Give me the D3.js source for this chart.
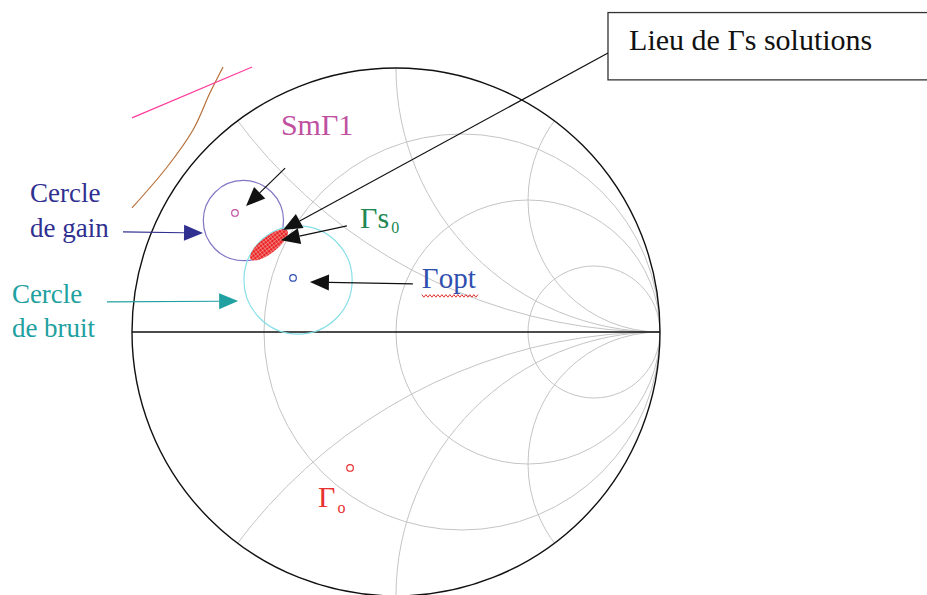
<!DOCTYPE html>
<html>
<head>
<script src="https://d3js.org/d3.v7.min.js"></script>
<style>
  body { margin: 0; background: #fff; }
  svg { display: block; font-family: "Liberation Serif", "Times New Roman", serif; }
</style>
</head>
<body>
<svg id="chart" width="927" height="595"></svg>
<script>
// smith chart grid (normalised resistance / reactance)
const resistances = [1/3, 1, 3];
const reactances = [0.5, 1, 2, -0.5, -1, -2];

// circles in the reflection plane (u = Re, v = Im, r = radius)
const gainCircle = {u: -0.578, v: 0.422, r: 0.152};
const noiseCircle = {u: -0.371, v: 0.197, r: 0.205};
const solutionZone = {u: -0.481, v: 0.330, a: 0.088, b: 0.031, angle: -38};

// small point markers
const markerU = [-0.610, -0.390, -0.174];
const markerV = [0.451, 0.205, -0.515];
const markerColors = ["#c050a0", "#3050b0", "#e83030"];

// labels
const labelText = ["Lieu de \u0393s solutions", "Sm\u03931", "\u0393s", "\u0393opt", "Cercle", "de gain", "Cercle", "de bruit", "\u0393"];
const labelSub = ["", "", "0", "", "", "", "", "", "o"];
const labelU = [0.883, -0.436, -0.136, 0.098, -1.386, -1.386, -1.455, -1.455, -0.295];
const labelV = [1.068, 0.746, 0.394, 0.167, 0.492, 0.360, 0.110, -0.019, -0.663];
const labelColors = ["#111", "#c050a0", "#208850", "#3050b0", "#303090", "#303090", "#20a0a0", "#20a0a0", "#e83030"];
const labelSizes = [30, 30, 30, 29, 27, 27, 27, 27, 30];

// arrows [u1, v1, u2, v2]
const arrows = [
  [0.803, 1.057, -0.428, 0.386],
  [-0.420, 0.621, -0.568, 0.477],
  [-0.186, 0.402, -0.436, 0.348],
  [0.064, 0.182, -0.326, 0.189],
  [-1.034, 0.379, -0.731, 0.375],
  [-1.095, 0.114, -0.598, 0.117]
];
const arrowColors = ["#111", "#111", "#111", "#111", "#303090", "#20a0a0"];

// stray sketch strokes top left
const brownCurve = [[-1.0, 0.470], [-0.867, 0.625], [-0.769, 0.765], [-0.705, 0.905], [-0.655, 1.004]];
const pinkLine = [[-1.0, 0.811], [-0.545, 1.004]];

const svg = d3.select("#chart");
const x = d3.scaleLinear().domain([-1, 1]).range([132, 660]);
const y = d3.scaleLinear().domain([-1, 1]).range([596, 68]);
const len = r => x(r) - x(0);

const defs = svg.append("defs");
defs.append("clipPath").attr("id", "disc")
  .append("circle").attr("cx", x(0)).attr("cy", y(0)).attr("r", len(1));
const pat = defs.append("pattern").attr("id", "hatch")
  .attr("width", 3).attr("height", 3).attr("patternUnits", "userSpaceOnUse");
pat.append("rect").attr("width", 3).attr("height", 3).attr("fill", "#e82020");
pat.append("path").attr("d", "M0,0H3M0,0V3").attr("stroke", "#ffd0d0").attr("stroke-width", 0.8);

const grid = svg.append("g").attr("clip-path", "url(#disc)")
  .attr("fill", "none").attr("stroke", "#c4c4c4").attr("stroke-width", 1);
grid.selectAll("circle.r").data(resistances).join("circle")
  .attr("class", "r")
  .attr("cx", r => x(r / (1 + r)))
  .attr("cy", y(0))
  .attr("r", r => len(1 / (1 + r)));
grid.selectAll("circle.x").data(reactances).join("circle")
  .attr("class", "x")
  .attr("cx", x(1))
  .attr("cy", k => y(1 / k))
  .attr("r", k => len(Math.abs(1 / k)));

svg.append("circle").attr("cx", x(0)).attr("cy", y(0)).attr("r", len(1))
  .attr("fill", "none").attr("stroke", "#111").attr("stroke-width", 1.4);
svg.append("line").attr("x1", x(-1)).attr("x2", x(1)).attr("y1", y(0)).attr("y2", y(0))
  .attr("stroke", "#111").attr("stroke-width", 1.3);

// sketch strokes
svg.append("path").datum(brownCurve)
  .attr("d", d3.line().x(d => x(d[0])).y(d => y(d[1])).curve(d3.curveCatmullRom))
  .attr("fill", "none").attr("stroke", "#b8703a").attr("stroke-width", 1.2);
svg.append("path").datum(pinkLine)
  .attr("d", d3.line().x(d => x(d[0])).y(d => y(d[1])))
  .attr("fill", "none").attr("stroke", "#ff3c9c").attr("stroke-width", 1.2);

// gain and noise circles
svg.append("circle").attr("cx", x(gainCircle.u)).attr("cy", y(gainCircle.v)).attr("r", len(gainCircle.r))
  .attr("fill", "none").attr("stroke", "#8474c4").attr("stroke-width", 1.2);
svg.append("circle").attr("cx", x(noiseCircle.u)).attr("cy", y(noiseCircle.v)).attr("r", len(noiseCircle.r))
  .attr("fill", "none").attr("stroke", "#88dfe8").attr("stroke-width", 1.2);

// solution zone
svg.append("ellipse")
  .attr("transform", `translate(${x(solutionZone.u)},${y(solutionZone.v)}) rotate(${solutionZone.angle})`)
  .attr("rx", len(solutionZone.a)).attr("ry", len(solutionZone.b))
  .attr("fill", "url(#hatch)");

// markers
svg.selectAll("circle.m").data(markerU).join("circle")
  .attr("class", "m")
  .attr("cx", d => x(d))
  .attr("cy", (d, i) => y(markerV[i]))
  .attr("r", 3.3)
  .attr("fill", "none")
  .attr("stroke", (d, i) => markerColors[i])
  .attr("stroke-width", 1.2);

// box for "Lieu de Γs solutions"
svg.append("rect")
  .attr("x", x(0.803)).attr("y", y(1.210))
  .attr("width", x(2.04) - x(0.803)).attr("height", y(0.955) - y(1.210))
  .attr("fill", "#fff").attr("stroke", "#333").attr("stroke-width", 1.3);

// arrows
arrows.forEach((a, i) => {
  const x1 = x(a[0]), y1 = y(a[1]), x2 = x(a[2]), y2 = y(a[3]);
  const ang = Math.atan2(y2 - y1, x2 - x1);
  const hl = 19, hw = 8;
  const bx = x2 - hl * Math.cos(ang), by = y2 - hl * Math.sin(ang);
  svg.append("line")
    .attr("x1", x1).attr("y1", y1).attr("x2", bx).attr("y2", by)
    .attr("stroke", arrowColors[i]).attr("stroke-width", 1.2);
  svg.append("path")
    .attr("d", `M${x2},${y2}L${bx - hw * Math.sin(ang)},${by + hw * Math.cos(ang)}L${bx + hw * Math.sin(ang)},${by - hw * Math.cos(ang)}Z`)
    .attr("fill", arrowColors[i]);
});

// labels
labelText.forEach((t, i) => {
  const txt = svg.append("text")
    .attr("x", x(labelU[i])).attr("y", y(labelV[i]))
    .attr("fill", labelColors[i])
    .style("font-size", labelSizes[i] + "px")
    .text(t);
  if (labelSub[i]) {
    txt.append("tspan").attr("dx", 2).attr("dy", labelSub[i] == "o" ? 6 : 5)
      .style("font-size", "16px").text(labelSub[i]);
  }
});

// spell-check squiggle under Γopt
const sq = [];
for (let k = 0; k <= 28; k++) {
  sq.push([x(0.098) + k * 2, y(0.167) + 8 + (k % 2 ? 1.3 : -1.3)]);
}
svg.append("path").datum(sq)
  .attr("d", d3.line())
  .attr("fill", "none").attr("stroke", "#e03030").attr("stroke-width", 1);
</script>
</body>
</html>
